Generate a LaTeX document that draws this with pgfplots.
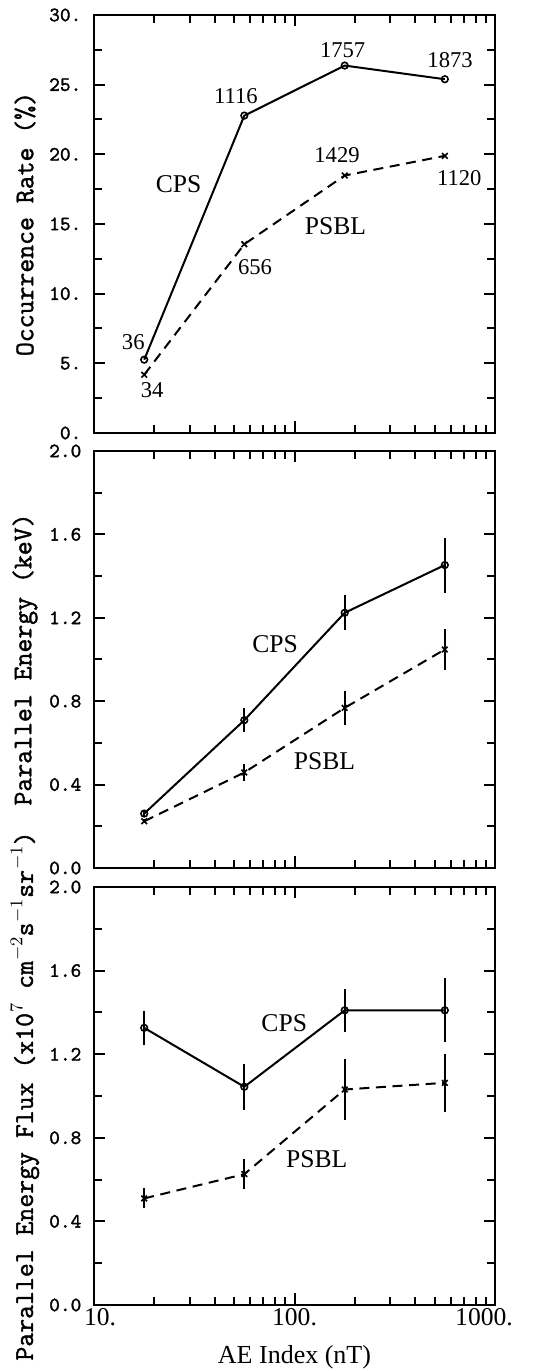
\documentclass[border=0pt]{standalone}
\usepackage{fontspec}
\setmainfont{Liberation Serif}
\newfontfamily\ymono[FakeBold=1.5]{Latin Modern Mono}
\usepackage{pgfplots}
\pgfplotsset{compat=1.18}

\newcommand{\ylfont}{\ymono\fontsize{13.5}{15}\selectfont}
\newcommand{\numfont}{\fontsize{11.3}{13}\selectfont}
\newcommand{\lblfont}{\fontsize{12.8}{14}\selectfont}

\pgfplotsset{
  every axis/.append style={
    scale only axis, width=200.5pt,
    xmin=10, xmax=1000,
    xtick={10,100,1000},
    minor xtick={20,30,40,50,60,70,80,90,200,300,400,500,600,700,800,900},
    axis line style={line width=1pt},
    major tick style={line width=1pt, black},
    minor tick style={line width=1pt, black},
    major tick length=5.75pt, minor tick length=4pt,
    tick align=inside, xtick pos=both, ytick pos=both,
    clip=false,
    /pgf/number format/assume math mode=true,
    ylabel style={font=\ylfont, at={(axis description cs:-0.1721,0.5)}, anchor=center},
    yticklabel style={font=\ymono\fontsize{10.2}{12}\selectfont, anchor=east, xshift=-2.8pt},
    ymin=0,
  },
}
\tikzset{
  solidline/.style={black, line width=1pt, mark=o, mark size=1.65pt, mark options={solid, line width=0.8pt}},
  dashline/.style={black, line width=1pt, dash pattern=on 5pt off 3.3pt, mark=x, mark size=2pt, mark options={solid, line width=0.8pt}},
}

\begin{document}
\begin{tikzpicture}
% ---------------- top panel ----------------
\begin{semilogxaxis}[at={(0,436pt)}, anchor=south west, height=209pt,
  ymax=30, ytick={0,5,10,15,20,25,30},
  yticklabels={0.,5.,10.,15.,20.,25.,30.},
  minor ytick={2.5,7.5,12.5,17.5,22.5,27.5},
  xticklabels={},
  ylabel={Occurrence Rate (\%)}]
\addplot[solidline] coordinates {(17.8,5.26) (56.2,22.78) (178,26.37) (562,25.39)};
\addplot[dashline] coordinates {(17.8,4.18) (56.2,13.55) (178,18.48) (562,19.89)};
\node[font=\numfont] at (axis cs:15.7,6.55) {36};
\node[font=\numfont] at (axis cs:19.5,3.06) {34};
\node[font=\numfont] at (axis cs:51,24.2) {1116};
\node[font=\numfont] at (axis cs:63.5,11.93) {656};
\node[font=\numfont] at (axis cs:173.8,27.47) {1757};
\node[font=\numfont] at (axis cs:163,19.94) {1429};
\node[font=\numfont] at (axis cs:597,26.73) {1873};
\node[font=\numfont] at (axis cs:664,18.26) {1120};
\node[font=\lblfont] at (axis cs:26.4,17.88) {CPS};
\node[font=\lblfont] at (axis cs:160,14.82) {PSBL};
\end{semilogxaxis}
% ---------------- middle panel ----------------
\begin{semilogxaxis}[at={(0,218.5pt)}, anchor=south west, height=208.5pt,
  ymax=2, ytick={0,0.4,0.8,1.2,1.6,2.0},
  yticklabels={0.0,0.4,0.8,1.2,1.6,2.0},
  minor ytick={0.2,0.6,1.0,1.4,1.8},
  xticklabels={},
  ylabel={Parallel Energy (keV)}]
\addplot[solidline, error bars/.cd, y dir=both, y explicit, error mark=none, error bar style={line width=1pt, solid}]
 table[x=x, y=y, y error=e] {
x y e
17.8 0.261 0.015
56.2 0.709 0.058
178 1.224 0.084
562 1.453 0.132
};
\addplot[dashline, error bars/.cd, y dir=both, y explicit, error mark=none, error bar style={line width=1pt, solid}]
 table[x=x, y=y, y error=e] {
x y e
17.8 0.224 0.010
56.2 0.458 0.040
178 0.768 0.082
562 1.048 0.098
};
\node[font=\lblfont] at (axis cs:80,1.074) {CPS};
\node[font=\lblfont] at (axis cs:141,0.514) {PSBL};
\end{semilogxaxis}
% ---------------- bottom panel ----------------
\begin{semilogxaxis}[at={(0,0)}, anchor=south west, height=209pt,
  ymax=2, ytick={0,0.4,0.8,1.2,1.6,2.0},
  yticklabels={0.0,0.4,0.8,1.2,1.6,2.0},
  minor ytick={0.2,0.6,1.0,1.4,1.8},
  xticklabels={\kern6pt 10.,100.,1000.\kern11pt},
  xticklabel style={font=\lblfont, yshift=1.8pt},
  xlabel={AE Index (nT)},
  xlabel style={font=\fontsize{13}{15}\selectfont, at={(axis description cs:0.5,-0.1244)}, anchor=center},
  ylabel={Parallel Energy Flux (x10$^{7}$ cm$^{-2}$s$^{-1}$sr$^{-1}$)}]
\addplot[solidline, error bars/.cd, y dir=both, y explicit, error mark=none, error bar style={line width=1pt, solid}]
 table[x=x, y=y, y error=e] {
x y e
17.8 1.326 0.082
56.2 1.044 0.110
178 1.410 0.104
562 1.410 0.153
};
\addplot[dashline, error bars/.cd, y dir=both, y explicit, error mark=none, error bar style={line width=1pt, solid}]
 table[x=x, y=y, y error=e] {
x y e
17.8 0.510 0.048
56.2 0.626 0.073
178 1.031 0.148
562 1.063 0.140
};
\node[font=\lblfont] at (axis cs:88.9,1.347) {CPS};
\node[font=\lblfont] at (axis cs:129,0.698) {PSBL};
\end{semilogxaxis}
\pgfresetboundingbox
\path (-47pt,-33pt) rectangle (225pt,652.5pt);
\end{tikzpicture}
\end{document}
